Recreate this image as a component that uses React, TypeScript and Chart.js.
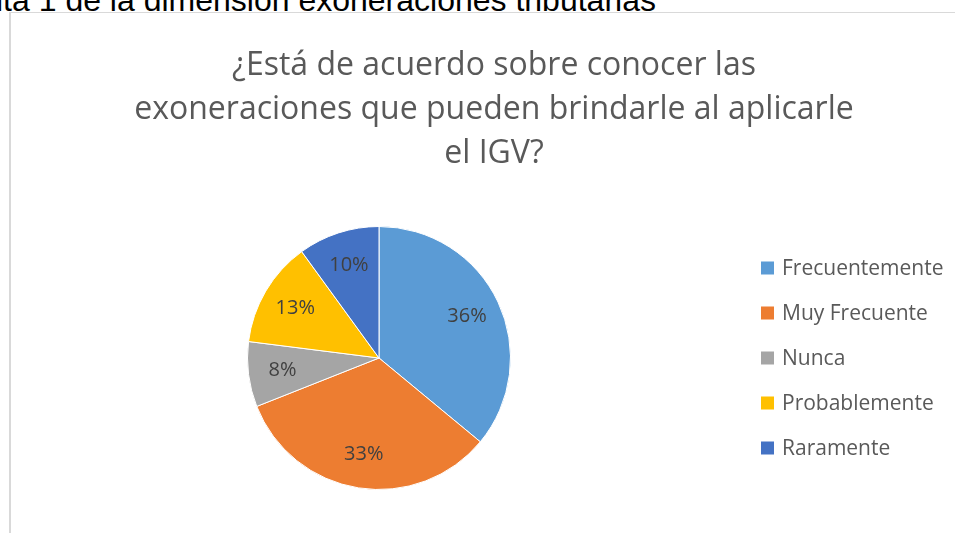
import React, { useEffect, useRef } from "react";
import { Chart, registerables } from "chart.js";

Chart.register(...registerables);

const categories = ["Frecuentemente", "Muy Frecuente", "Nunca", "Probablemente", "Raramente"];
const values = [36, 33, 8, 13, 10];
const colors = ["#5B9BD5", "#ED7D31", "#A5A5A5", "#FFC000", "#4472C4"];
const titleLines = ["¿Está de acuerdo sobre conocer las", "exoneraciones que pueden brindarle al aplicarle", "el IGV?"];
const captionText = "ita 1 de la dimensión exoneraciones tributarias";

const FONT = "'Open Sans', Lato, sans-serif";

const overlayPlugin = {
  id: "overlay",
  afterDraw(chart: any) {
    const ctx = chart.ctx;
    ctx.save();
    // title
    ctx.fillStyle = "#595959";
    ctx.textAlign = "center";
    ctx.textBaseline = "alphabetic";
    ctx.font = `32px ${FONT}`;
    const tb = [75, 119, 163];
    titleLines.forEach((l, i) => ctx.fillText(l, 494, tb[i]));

    // data labels
    const meta = chart.getDatasetMeta(0);
    const total = values.reduce((a, b) => a + b, 0);
    ctx.font = `20px ${FONT}`;
    ctx.fillStyle = "#404040";
    ctx.textBaseline = "middle";
    meta.data.forEach((arc: any, i: number) => {
      const p = arc.getProps(["x", "y", "startAngle", "endAngle", "outerRadius"], true);
      const mid = (p.startAngle + p.endAngle) / 2;
      const r = p.outerRadius * 0.74;
      const pct = Math.round((values[i] / total) * 100) + "%";
      ctx.fillText(pct, p.x + Math.cos(mid) * r, p.y + Math.sin(mid) * r);
    });

    // legend
    ctx.textAlign = "left";
    ctx.textBaseline = "middle";
    ctx.font = `21px ${FONT}`;
    categories.forEach((c, i) => {
      const cy = 268 + i * 45;
      ctx.fillStyle = colors[i];
      ctx.fillRect(761, cy - 6.5, 13, 13);
      ctx.fillStyle = "#595959";
      ctx.fillText(c, 782, cy + 1);
    });
    ctx.restore();
  },
};

export default function App() {
  const ref = useRef<HTMLCanvasElement>(null);
  useEffect(() => {
    if (!ref.current) return;
    const chart = new Chart(ref.current, {
      type: "pie",
      data: {
        labels: categories,
        datasets: [
          {
            data: values,
            backgroundColor: colors,
            borderColor: "#ffffff",
            borderWidth: 1,
          },
        ],
      },
      options: {
        responsive: false,
        animation: false,
        events: [],
        layout: { padding: { left: 247, top: 226, right: 444, bottom: 43 } },
        plugins: {
          legend: { display: false },
          title: { display: false },
          tooltip: { enabled: false },
        },
      },
      plugins: [overlayPlugin],
    });
    return () => chart.destroy();
  }, []);

  return (
    <div style={{ position: "fixed", left: 0, top: 0, width: 955, height: 533, overflow: "hidden", background: "#fff" }}>
      <div
        style={{
          position: "absolute",
          left: -4,
          top: -16,
          whiteSpace: "nowrap",
          fontFamily: "'Liberation Sans', Arial, sans-serif",
          fontSize: 32,
          lineHeight: "32px",
          color: "#000",
        }}
      >
        {captionText}
      </div>
      <div
        style={{
          position: "absolute",
          left: 9,
          top: 12,
          width: 1000,
          height: 600,
          borderLeft: "2px solid #d9d9d9",
          borderTop: "1px solid #d9d9d9",
        }}
      />
      <canvas ref={ref} width={955} height={533} style={{ position: "absolute", left: 0, top: 0 }} />
    </div>
  );
}
